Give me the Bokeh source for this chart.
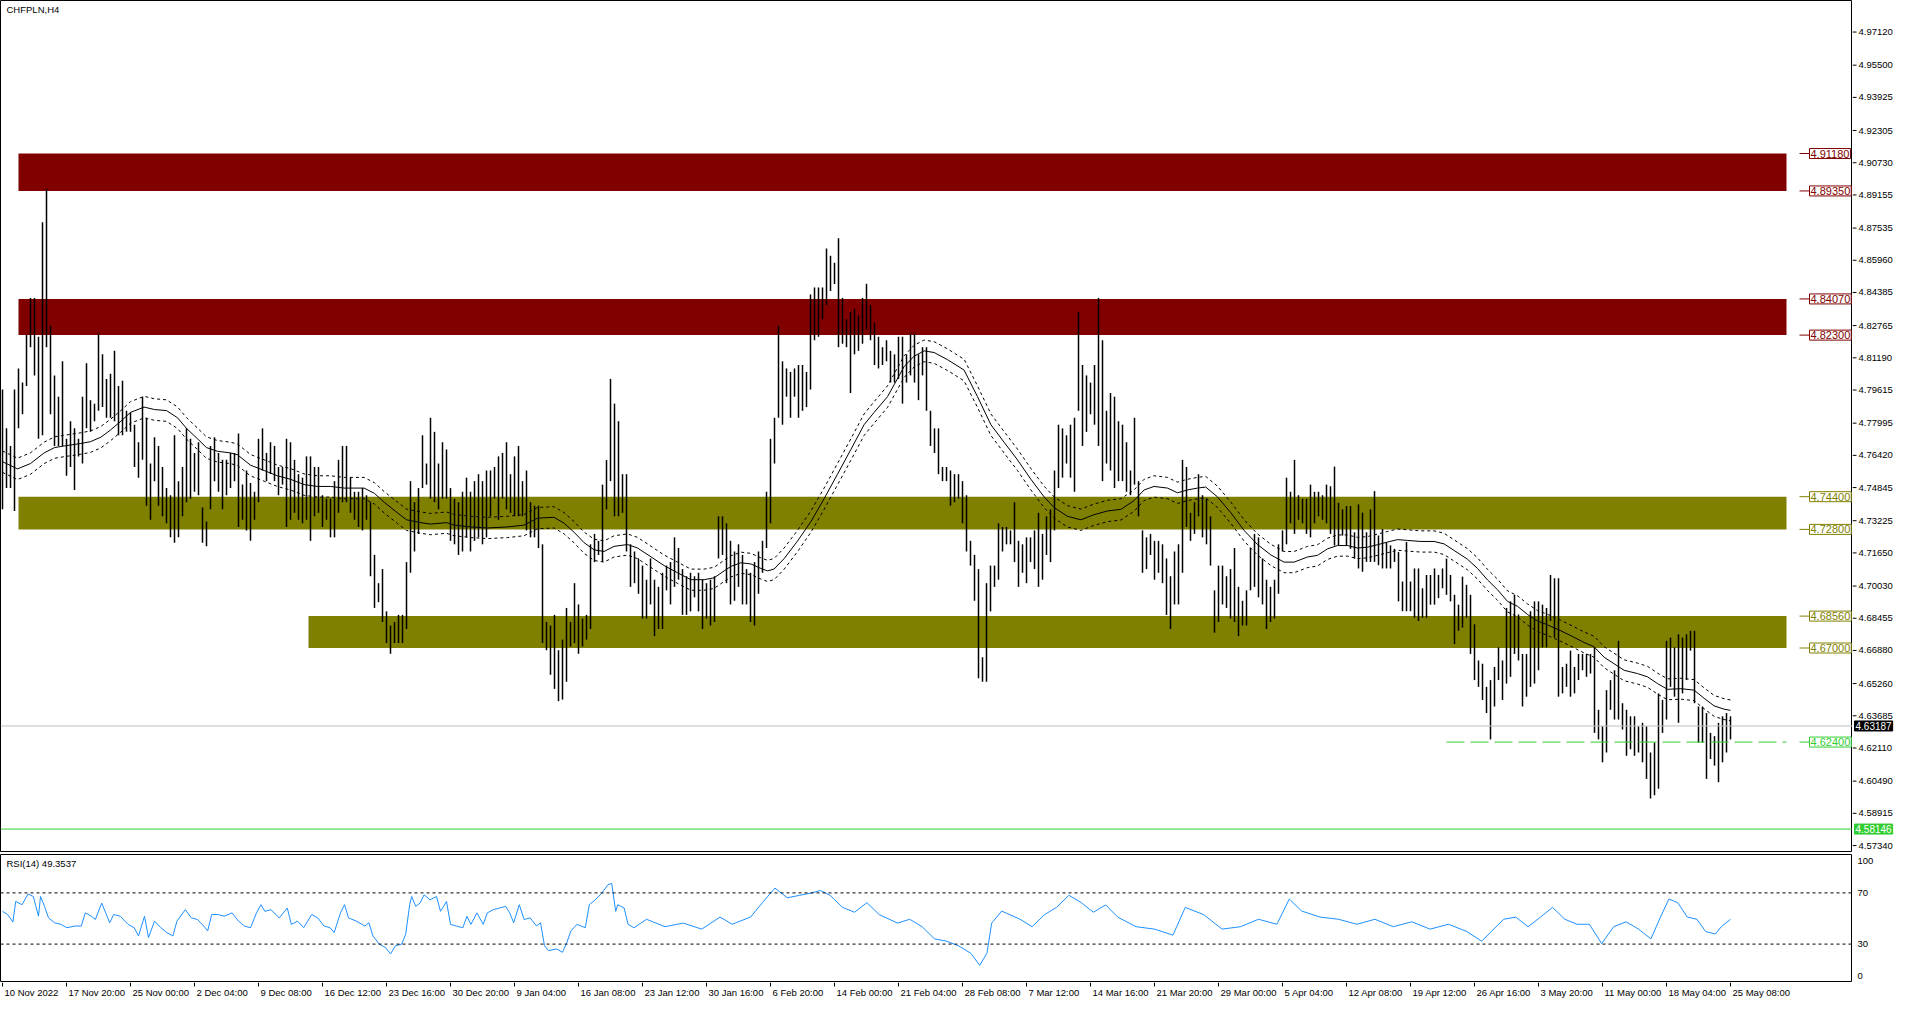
from bokeh.plotting import figure
from bokeh.layouts import column, row
from bokeh.models import Range1d, Span, Label
from bokeh.embed import file_html
from bokeh.resources import INLINE
from bokeh.core.properties import value

# ---------------- data ----------------
chart_title = "CHFPLN,H4"
rsi_title = "RSI(14) 49.3537"

high = [
    4.7964, 4.7774, 4.7688, 4.7964, 4.8067, 4.7998, 4.8231, 4.8412, 4.8412, 4.8222,
    4.8782, 4.8945, 4.8274, 4.8033, 4.7929, 4.8102, 4.7723, 4.7809, 4.7774, 4.7723,
    4.7929, 4.8093, 4.7912, 4.7895, 4.8239, 4.8136, 4.8016, 4.8041, 4.8153, 4.7981,
    4.8007, 4.7860, 4.7852, 4.7792, 4.7706, 4.7929, 4.7826, 4.7602, 4.7731, 4.7688,
    4.7585, 4.7482, 4.7447, 4.7740, 4.7516, 4.7585, 4.7774, 4.7723, 4.7654, 4.7706,
    4.7387, 4.7318, 4.7688, 4.7731, 4.7654, 4.7620, 4.7620, 4.7654, 4.7654, 4.7749,
    4.7499, 4.7568, 4.7507, 4.7464, 4.7723, 4.7774, 4.7654, 4.7706, 4.7688, 4.7585,
    4.7585, 4.7723, 4.7706, 4.7620, 4.7550, 4.7533, 4.7637, 4.7637, 4.7585, 4.7585,
    4.7447, 4.7430, 4.7430, 4.7516, 4.7620, 4.7688, 4.7688, 4.7533, 4.7464, 4.7464,
    4.7482, 4.7447, 4.7413, 4.7155, 4.7017, 4.7086, 4.6879, 4.6810, 4.6827, 4.6862,
    4.6862, 4.7120, 4.7516, 4.7413, 4.7482, 4.7740, 4.7602, 4.7826, 4.7757, 4.7602,
    4.7706, 4.7671, 4.7482, 4.7430, 4.7413, 4.7464, 4.7533, 4.7464, 4.7516, 4.7550,
    4.7516, 4.7568, 4.7568, 4.7585, 4.7637, 4.7654, 4.7706, 4.7550, 4.7637, 4.7688,
    4.7516, 4.7568, 4.7413, 4.7396, 4.7396, 4.7207, 4.6827, 4.6810, 4.6862, 4.6689,
    4.6741, 4.6896, 4.6827, 4.7017, 4.6913, 4.6844, 4.6862, 4.7207, 4.7258, 4.7224,
    4.7499, 4.7619, 4.8016, 4.7895, 4.7809, 4.7550, 4.7550, 4.7207, 4.7172, 4.7138,
    4.7103, 4.7034, 4.7138, 4.7034, 4.6999, 4.7068, 4.7103, 4.7120, 4.7241, 4.7189,
    4.7086, 4.7051, 4.7068, 4.7051, 4.7068, 4.7034, 4.7017, 4.7034, 4.7051, 4.7344,
    4.7344, 4.7310, 4.7224, 4.7172, 4.7207, 4.7155, 4.7086, 4.7068, 4.7120, 4.7172,
    4.7224, 4.7464, 4.7723, 4.7826, 4.8274, 4.8102, 4.8067, 4.8050, 4.8067, 4.8084,
    4.8084, 4.8050, 4.8429, 4.8463, 4.8463, 4.8463, 4.8653, 4.8618, 4.8584, 4.8704,
    4.8412, 4.8308, 4.8343, 4.8360, 4.8326, 4.8412, 4.8481, 4.8377, 4.8291, 4.8222,
    4.8171, 4.8205, 4.8153, 4.8136, 4.8222, 4.8222, 4.8136, 4.8239, 4.8239, 4.8136,
    4.8171, 4.8171, 4.7860, 4.7774, 4.7774, 4.7585, 4.7585, 4.7568, 4.7550, 4.7550,
    4.7516, 4.7447, 4.7224, 4.7155, 4.7086, 4.6655, 4.7017, 4.7103, 4.7103, 4.7310,
    4.7292, 4.7292, 4.7275, 4.7413, 4.7224, 4.7207, 4.7241, 4.7241, 4.7275, 4.7361,
    4.7258, 4.7344, 4.7378, 4.7568, 4.7792, 4.7774, 4.7740, 4.7792, 4.7826, 4.8343,
    4.8084, 4.8033, 4.7998, 4.8084, 4.8412, 4.8205, 4.7860, 4.7947, 4.7929, 4.7809,
    4.7792, 4.7706, 4.7568, 4.7826, 4.7516, 4.7275, 4.7241, 4.7258, 4.7224, 4.7224,
    4.7207, 4.7138, 4.7051, 4.7172, 4.7207, 4.7620, 4.7585, 4.7361, 4.7413, 4.7550,
    4.7447, 4.7430, 4.7344, 4.6982, 4.7103, 4.7103, 4.7051, 4.7086, 4.7189, 4.6999,
    4.6931, 4.6982, 4.7189, 4.7258, 4.7241, 4.7138, 4.7034, 4.6999, 4.7034, 4.7207,
    4.7275, 4.7533, 4.7464, 4.7620, 4.7447, 4.7430, 4.7430, 4.7499, 4.7464, 4.7464,
    4.7447, 4.7499, 4.7491, 4.7587, 4.7410, 4.7378, 4.7394, 4.7394, 4.7266, 4.7402,
    4.7362, 4.7266, 4.7378, 4.7467, 4.7250, 4.7282, 4.7218, 4.7202, 4.7185, 4.7169,
    4.7025, 4.7218, 4.7025, 4.7089, 4.7089, 4.6992, 4.7057, 4.7057, 4.7089, 4.7057,
    4.7089, 4.7137, 4.7057, 4.6960, 4.6912, 4.7049, 4.7009, 4.6960, 4.6816, 4.6639,
    4.6623, 4.6510, 4.6543, 4.6607, 4.6703, 4.6639, 4.6896, 4.6928, 4.6960, 4.6864,
    4.6671, 4.6671, 4.6880, 4.6928, 4.6928, 4.6912, 4.6896, 4.7057, 4.7041, 4.7041,
    4.6607, 4.6623, 4.6687, 4.6607, 4.6671, 4.6671, 4.6671, 4.6671, 4.6703, 4.6398,
    4.6317, 4.6494, 4.6543, 4.6591, 4.6735, 4.6430, 4.6398, 4.6366, 4.6366, 4.6317,
    4.6334, 4.6317, 4.6189, 4.6237, 4.6478, 4.6446, 4.6735, 4.6751, 4.6703, 4.6767,
    4.6751, 4.6767, 4.6784, 4.6784, 4.6414, 4.6414, 4.6382, 4.6285, 4.6269, 4.6334,
    4.6366, 4.6382, 4.6366,
]

low = [
    4.7378, 4.7482, 4.7482, 4.7370, 4.7774, 4.7843, 4.7981, 4.8171, 4.8033, 4.7723,
    4.7740, 4.8171, 4.7843, 4.7688, 4.7688, 4.7688, 4.7542, 4.7585, 4.7473, 4.7637,
    4.7602, 4.7774, 4.7757, 4.7809, 4.7860, 4.7878, 4.7826, 4.7826, 4.7809, 4.7740,
    4.7740, 4.7757, 4.7757, 4.7585, 4.7533, 4.7620, 4.7396, 4.7327, 4.7516, 4.7396,
    4.7344, 4.7310, 4.7241, 4.7215, 4.7241, 4.7344, 4.7413, 4.7430, 4.7464, 4.7447,
    4.7215, 4.7198, 4.7378, 4.7516, 4.7464, 4.7378, 4.7447, 4.7482, 4.7516, 4.7292,
    4.7327, 4.7275, 4.7224, 4.7327, 4.7413, 4.7568, 4.7516, 4.7551, 4.7516, 4.7447,
    4.7499, 4.7292, 4.7327, 4.7361, 4.7327, 4.7310, 4.7327, 4.7224, 4.7344, 4.7361,
    4.7292, 4.7327, 4.7241, 4.7241, 4.7361, 4.7413, 4.7413, 4.7361, 4.7327, 4.7292,
    4.7275, 4.7327, 4.7051, 4.6896, 4.6924, 4.6827, 4.6724, 4.6672, 4.6724, 4.6724,
    4.6724, 4.6793, 4.7068, 4.7172, 4.7258, 4.7482, 4.7499, 4.7430, 4.7413, 4.7378,
    4.7430, 4.7430, 4.7224, 4.7207, 4.7155, 4.7172, 4.7241, 4.7172, 4.7224, 4.7241,
    4.7207, 4.7241, 4.7344, 4.7430, 4.7327, 4.7430, 4.7378, 4.7361, 4.7344, 4.7344,
    4.7344, 4.7275, 4.7241, 4.7241, 4.7189, 4.6724, 4.6689, 4.6569, 4.6500, 4.6440,
    4.6448, 4.6535, 4.6707, 4.6724, 4.6672, 4.6707, 4.6741, 4.6793, 4.7120, 4.7155,
    4.7120, 4.7378, 4.7516, 4.7344, 4.7344, 4.7361, 4.7172, 4.6999, 4.7017, 4.6965,
    4.6844, 4.6844, 4.6913, 4.6758, 4.6793, 4.6793, 4.6982, 4.6913, 4.6999, 4.7034,
    4.6862, 4.6862, 4.6879, 4.6948, 4.6879, 4.6793, 4.6844, 4.6810, 4.6827, 4.7138,
    4.7155, 4.7017, 4.6913, 4.6931, 4.6999, 4.6913, 4.6913, 4.6827, 4.6810, 4.6965,
    4.7068, 4.7189, 4.7310, 4.7602, 4.7826, 4.7792, 4.7929, 4.7826, 4.7929, 4.7826,
    4.7860, 4.7878, 4.7964, 4.8205, 4.8222, 4.8308, 4.8377, 4.8446, 4.8480, 4.8171,
    4.8188, 4.8171, 4.7947, 4.8136, 4.8153, 4.8188, 4.8257, 4.8205, 4.8084, 4.8067,
    4.8084, 4.8102, 4.7998, 4.7998, 4.8016, 4.7895, 4.7998, 4.8033, 4.7998, 4.7912,
    4.8033, 4.7860, 4.7688, 4.7654, 4.7550, 4.7516, 4.7516, 4.7396, 4.7413, 4.7430,
    4.7310, 4.7172, 4.7103, 4.6931, 4.6552, 4.6535, 4.6535, 4.6879, 4.6999, 4.7034,
    4.7172, 4.7207, 4.7207, 4.7120, 4.6999, 4.7068, 4.7017, 4.7120, 4.7086, 4.6999,
    4.7034, 4.7155, 4.7120, 4.7275, 4.7482, 4.7533, 4.7602, 4.7533, 4.7464, 4.7860,
    4.7688, 4.7757, 4.7843, 4.7792, 4.7688, 4.7516, 4.7602, 4.7568, 4.7482, 4.7516,
    4.7516, 4.7464, 4.7447, 4.7499, 4.7344, 4.7068, 4.7086, 4.7155, 4.7034, 4.7068,
    4.7017, 4.6862, 4.6793, 4.6913, 4.6913, 4.7068, 4.7292, 4.7224, 4.7258, 4.7344,
    4.7241, 4.7207, 4.7103, 4.6775, 4.6827, 4.6913, 4.6896, 4.6844, 4.6827, 4.6758,
    4.6810, 4.6810, 4.6982, 4.6999, 4.6948, 4.6913, 4.6793, 4.6827, 4.6844, 4.6965,
    4.7172, 4.7207, 4.7310, 4.7258, 4.7327, 4.7310, 4.7258, 4.7241, 4.7310, 4.7344,
    4.7327, 4.7310, 4.7258, 4.7201, 4.7201, 4.7250, 4.7201, 4.7185, 4.7137, 4.7089,
    4.7073, 4.7121, 4.7121, 4.7121, 4.7105, 4.7089, 4.7089, 4.7089, 4.7121, 4.6928,
    4.6880, 4.6880, 4.6880, 4.6848, 4.6832, 4.6848, 4.6848, 4.6912, 4.6912, 4.6944,
    4.6992, 4.6960, 4.6928, 4.6719, 4.6784, 4.6800, 4.6848, 4.6671, 4.6543, 4.6510,
    4.6446, 4.6382, 4.6253, 4.6414, 4.6543, 4.6446, 4.6526, 4.6559, 4.6671, 4.6639,
    4.6414, 4.6462, 4.6510, 4.6526, 4.6591, 4.6703, 4.6703, 4.6832, 4.6751, 4.6462,
    4.6478, 4.6510, 4.6462, 4.6478, 4.6543, 4.6591, 4.6559, 4.6575, 4.6285, 4.6253,
    4.6141, 4.6189, 4.6398, 4.6350, 4.6350, 4.6301, 4.6173, 4.6205, 4.6173, 4.6189,
    4.6141, 4.6060, 4.5964, 4.5980, 4.6012, 4.6285, 4.6350, 4.6510, 4.6462, 4.6334,
    4.6478, 4.6543, 4.6687, 4.6430, 4.6237, 4.6237, 4.6060, 4.6157, 4.6125, 4.6044,
    4.6141, 4.6189, 4.6253,
]
bar = list(range(len(high)))

# moving average (read at these bar positions) and its envelope deviation (%)
ma_bar = [0, 3.75, 7, 10.4, 13, 15.4, 19.6, 22, 24.6, 27, 29.6, 32, 35.4, 38, 41, 43.75, 46, 48.75,
          51, 53.75, 57, 58.75, 62, 65.4, 68.75, 72, 75.4, 78.75, 82, 85.4, 90.4, 93, 95.4, 98.75,
          101, 104.6, 107, 111, 112.9, 117.1, 121.25, 126.25, 130.4, 133.75, 137.9, 140.4, 142.9,
          145.4, 147.9, 150.4, 152.9, 156.25, 158.75, 162.1, 165.4, 168.75, 172.1, 175.4, 177.9,
          180.4, 182.1, 184.6, 187.1, 189.6, 191.25, 192.9, 195.4, 198.75, 202.1, 205.4, 208.75,
          212.1, 215.4, 217.9, 221.25, 225.4, 227.9, 230.4, 232.9, 236.25, 240.4, 243.75, 247.1,
          250.4, 253.75, 257.1, 260.4, 262.9, 266.25, 269.6, 272.9, 276.25, 279.6, 282.9, 285.4,
          287.9, 291.25, 293.75, 296.25, 298.75, 300.8, 303.75, 307.1, 310.4, 313.75, 317.1, 320.4,
          322.9, 326.25, 328.75, 331.25, 333.75, 336.25, 338.75, 341.25, 343.75, 346.25, 348.75,
          351.25, 354.6, 357.9, 360.4, 362.9, 366.25, 368.75, 371.25, 373.75, 376.25, 378.75,
          381.25, 383.75, 386.25, 389.6, 392.1, 395.4, 397.9, 400.4, 402.9, 405.4, 408.75, 411.25,
          413.75, 416.25, 419.6, 422.9, 425.4, 427.9, 430.4, 432]
ma_val = [4.7611, 4.7576, 4.7602, 4.7654, 4.7680, 4.7688, 4.7700, 4.7709, 4.7731, 4.7766, 4.7809,
          4.7852, 4.7878, 4.7866, 4.7861, 4.7826, 4.7774, 4.7723, 4.7680, 4.7662, 4.7654, 4.7645,
          4.7594, 4.7568, 4.7542, 4.7525, 4.7499, 4.7490, 4.7490, 4.7482, 4.7482, 4.7456, 4.7413,
          4.7361, 4.7327, 4.7313, 4.7306, 4.7313, 4.7301, 4.7292, 4.7287, 4.7292, 4.7301, 4.7335,
          4.7339, 4.7310, 4.7266, 4.7215, 4.7180, 4.7172, 4.7197, 4.7206, 4.7189, 4.7146, 4.7103,
          4.7068, 4.7034, 4.7034, 4.7043, 4.7077, 4.7099, 4.7117, 4.7111, 4.7089, 4.7077, 4.7086,
          4.7137, 4.7223, 4.7318, 4.7430, 4.7550, 4.7671, 4.7792, 4.7852, 4.7929, 4.8076, 4.8127,
          4.8153, 4.8145, 4.8110, 4.8059, 4.7929, 4.7792, 4.7706, 4.7620, 4.7525, 4.7439, 4.7387,
          4.7344, 4.7327, 4.7352, 4.7370, 4.7378, 4.7421, 4.7473, 4.7490, 4.7482, 4.7459, 4.7473,
          4.7482, 4.7487, 4.7439, 4.7361, 4.7275, 4.7206, 4.7155, 4.7120, 4.7120, 4.7145, 4.7153,
          4.7185, 4.7201, 4.7201, 4.7189, 4.7193, 4.7205, 4.7218, 4.7230, 4.7226, 4.7221, 4.7221,
          4.7209, 4.7177, 4.7134, 4.7089, 4.7033, 4.6985, 4.6928, 4.6904, 4.6864, 4.6832, 4.6813,
          4.6784, 4.6760, 4.6727, 4.6706, 4.6655, 4.6623, 4.6591, 4.6575, 4.6559, 4.6526, 4.6498,
          4.6501, 4.6494, 4.6454, 4.6417, 4.6401, 4.6395]
envelope_pct = 0.11

rsi_bar = [0, 1.3, 2.6, 3.3, 4.9, 6.4, 7.7, 9, 9.5, 10.5, 11.5, 13, 14.6, 16.1, 18.1, 19.7, 20.7, 22.2,
           23.2, 24.8, 25.8, 26.8, 27.8, 29.4, 31.4, 32.9, 34, 35.5, 36.5, 38, 39.6, 41.1, 42.6, 43.6,
           45.7, 47.2, 48.75, 50.3, 51.3, 52.3, 53.9, 55.4, 57.4, 59, 60.5, 62, 63.5, 64.6, 65.6, 67.1,
           69.2, 71.2, 72.2, 73.75, 75.3, 77.3, 78.8, 80.4, 81.9, 82.9, 84.5, 85.5, 86.5, 88.5, 90.6,
           91.6, 92.6, 94.2, 95.7, 97, 98.25, 99.8, 100.8, 101.8, 102.3, 103.3, 104.4, 105.4, 106.9,
           108.5, 109.5, 111, 112, 113.5, 115.1, 116.1, 117.1, 118.6, 120.2, 121.2, 122.7, 124.3,
           125.8, 126.8, 127.8, 129.2, 130.4, 131.9, 133.5, 134.5, 135.5, 136.5, 138.5, 140, 141.1,
           142.1, 143.6, 145.7, 146.7, 148.2, 149.8, 151.3, 152.3, 153.3, 153.8, 155.4, 156.4, 157.9,
           161, 165.6, 170.2, 174.8, 179.4, 182.4, 187, 190, 193.1, 196.2, 199.3, 202.3, 204.5,
           206.9, 210, 213, 216.1, 219.2, 223.8, 226.8, 229.9, 233, 236, 239.1, 242.1, 244.3, 246.1,
           247.3, 249.8, 254.4, 257.4, 260.5, 263.5, 266.6, 269.7, 272.7, 275.8, 278.8, 283.4, 288,
           292.6, 295.7, 300.3, 304.9, 309.5, 314, 318.6, 321.7, 324.8, 329.4, 334, 338.6, 343.1,
           347.7, 352.3, 356.9, 361.5, 366.1, 369.8, 372.2, 375.3, 378.3, 381.4, 384.5, 387.5,
           390.6, 393.6, 396.7, 399.8, 402.8, 405.9, 409, 412.1, 414.5, 416.6, 418.8, 421.2, 423.6,
           425.8, 428.2, 429.7, 432]
rsi_val = [55.6, 53.1, 47.2, 63.3, 60.8, 69.2, 67.2, 51.8, 67.2, 59.5, 50.5, 46.7, 45.4, 42.8, 44.1,
           44.1, 54.4, 51.8, 49.2, 62.1, 54.4, 46.7, 53.1, 51.8, 45.4, 42.8, 36.4, 51.8, 35.1, 47.9,
           42.8, 39.0, 36.4, 47.9, 56.9, 50.5, 49.2, 44.1, 40.3, 53.1, 53.1, 51.8, 54.4, 47.9, 44.1,
           42.8, 54.4, 60.8, 55.6, 56.9, 50.5, 58.2, 45.4, 47.9, 42.8, 53.1, 50.5, 44.1, 42.8, 39.0,
           54.4, 60.8, 50.5, 47.9, 44.1, 46.7, 36.4, 30.0, 27.4, 22.3, 28.7, 30.0, 37.7, 60.8, 67.2,
           59.5, 62.1, 68.5, 64.6, 67.2, 55.6, 63.3, 45.4, 44.1, 42.8, 51.8, 45.4, 54.4, 45.4, 54.4,
           56.9, 58.2, 59.5, 54.4, 46.7, 60.8, 49.2, 50.5, 44.1, 46.7, 28.7, 24.9, 26.2, 23.6, 31.3,
           40.3, 45.4, 42.8, 60.8, 64.6, 69.7, 76.2, 77.4, 55.6, 60.8, 58.2, 45.4, 42.8,
           49.4, 43.6, 46.4, 41.7, 51.1, 45.5, 51.1, 62.4, 73.8, 66.2, 68.1, 70.0, 71.9, 68.1, 58.7,
           54.9, 62.4, 53.0, 46.4, 49.4, 43.6, 34.1, 32.3, 28.5, 22.8, 13.4, 22.8, 46.4, 55.8, 49.4,
           43.6, 53.0, 58.7, 68.1, 62.4, 54.9, 60.6, 51.1, 43.6, 41.7, 37.0, 58.7, 53.0, 41.7, 43.6,
           49.4, 45.5, 65.2, 55.8, 51.1, 49.4, 45.5, 49.4, 43.6, 47.4, 41.7, 45.5, 39.8, 32.3, 39.8,
           49.4, 51.1, 43.6, 51.1, 58.7, 49.4, 45.5, 45.5, 30.4, 43.6, 47.4, 41.7, 34.1, 51.1, 65.2,
           62.4, 51.1, 49.4, 39.8, 37.9, 43.6, 49.4]
rsi_levels = [70, 30]
rsi_scale_ticks = [5, 30, 70, 95]
rsi_scale_labels = ["0", "30", "70", "100"]

# horizontal zones (rectangles) and their anchoring bars
zone_top = [4.91180, 4.84070, 4.74400, 4.68560]
zone_bottom = [4.89350, 4.82300, 4.72800, 4.67000]
zone_color = ["#800000", "#800000", "#808000", "#808000"]
zone_start_bar = [4, 4, 4, 76.5]
zone_end_bar = [446, 446, 446, 446]

support_level = 4.62400
support_start_bar = 361
support_end_bar = 446
last_price = 4.63187
green_line_price = 4.58146

price_ticks = [4.97120, 4.95500, 4.93925, 4.92305, 4.90730, 4.89155, 4.87535, 4.85960, 4.84385,
               4.82765, 4.81190, 4.79615, 4.77995, 4.76420, 4.74845, 4.73225, 4.71650, 4.70030,
               4.68455, 4.66880, 4.65260, 4.63685, 4.62110, 4.60490, 4.58915, 4.57340]

date_labels = ["10 Nov 2022", "17 Nov 20:00", "25 Nov 00:00", "2 Dec 04:00", "9 Dec 08:00",
               "16 Dec 12:00", "23 Dec 16:00", "30 Dec 20:00", "9 Jan 04:00", "16 Jan 08:00",
               "23 Jan 12:00", "30 Jan 16:00", "6 Feb 20:00", "14 Feb 00:00", "21 Feb 04:00",
               "28 Feb 08:00", "7 Mar 12:00", "14 Mar 16:00", "21 Mar 20:00", "29 Mar 00:00",
               "5 Apr 04:00", "12 Apr 08:00", "19 Apr 12:00", "26 Apr 16:00", "3 May 20:00",
               "11 May 00:00", "18 May 04:00", "25 May 08:00"]
bars_per_label = 16
date_tick_bars = [k * bars_per_label for k in range(len(date_labels))]

# ---------------- layout / style ----------------
FONT = "Liberation Sans"
FS = "9.5px"
FRAME_W = 1852
AXIS_W = 50
MAIN_H = 852
RSI_H = 128
DATE_H = 20
X0, X1 = -0.5, 462.5
Y0, Y1 = 4.5700, 4.98663
xr = Range1d(X0, X1)
yr_main = Range1d(Y0, Y1)
yr_rsi = Range1d(0, 100)


def make_fig(w, h, x_range, y_range, top=0, outline="black"):
    f = figure(frame_width=w, frame_height=h, x_range=x_range, y_range=y_range,
               output_backend="svg", toolbar_location=None, x_axis_location=None,
               y_axis_location=None, min_border_left=0, min_border_right=0,
               min_border_top=top, min_border_bottom=0, background_fill_color="white",
               border_fill_color="white", outline_line_color=outline, outline_line_width=1)
    f.grid.visible = False
    return f


# ---------- main price panel ----------
p1 = make_fig(FRAME_W, MAIN_H, xr, yr_main)

p1.quad(left=zone_start_bar, right=zone_end_bar, top=zone_top, bottom=zone_bottom,
        fill_color=zone_color, line_color=None)

p1.segment(x0=bar, x1=bar, y0=low, y1=high, line_color="black", line_width=1.5)

ma_up = [v * (1 + envelope_pct / 100) for v in ma_val]
ma_dn = [v * (1 - envelope_pct / 100) for v in ma_val]
p1.line(ma_bar, ma_val, line_color="black", line_width=1)
p1.line(ma_bar, ma_up, line_color="black", line_width=1, line_dash="3 3")
p1.line(ma_bar, ma_dn, line_color="black", line_width=1, line_dash="3 3")

p1.add_layout(Span(location=last_price, dimension="width", line_color="#C0C0C0", line_width=1))
p1.add_layout(Span(location=green_line_price, dimension="width", line_color="#32CD32", line_width=1))
p1.segment(x0=[support_start_bar], x1=[support_end_bar], y0=[support_level], y1=[support_level],
           line_color="#32CD32", line_width=1, line_dash="18 6")

TAG_LINE0, TAG_LINE1 = 449.25, 451.75
tag_levels, tag_colors = [], []
for t, b, c in zip(zone_top, zone_bottom, zone_color):
    tag_levels += [t, b]
    tag_colors += [c, c]
tag_levels.append(support_level)
tag_colors.append("#32CD32")
p1.segment(x0=[TAG_LINE0] * len(tag_levels), x1=[TAG_LINE1] * len(tag_levels),
           y0=tag_levels, y1=tag_levels, line_color=tag_colors, line_width=1)
for lvl, c in zip(tag_levels, tag_colors):
    p1.add_layout(Label(x=TAG_LINE1, y=lvl, text=f"{lvl:.5f}", text_align="left",
                        text_baseline="middle", text_color=c, text_font=FONT,
                        text_font_size="11px", border_line_color=c, border_line_width=1,
                        background_fill_color="white", padding=1))

p1.add_layout(Label(x=X0 + 1.5, y=Y1 - 0.0045, text=chart_title, text_baseline="middle",
                    text_align="left", text_font=FONT, text_font_size=FS, text_color="black"))

# ---------- price scale (right) ----------
pa1 = make_fig(AXIS_W, MAIN_H, Range1d(0, AXIS_W), yr_main, outline=None)
pa1.segment(x0=[0] * len(price_ticks), x1=[4] * len(price_ticks), y0=price_ticks, y1=price_ticks,
            line_color="black", line_width=1)
pa1.text(x=[6] * len(price_ticks), y=price_ticks, text=[f"{t:.5f}" for t in price_ticks],
         text_font=value(FONT), text_font_size=value(FS), text_color="black",
         text_align="left", text_baseline="middle")
for lvl, bg in [(last_price, "black"), (green_line_price, "#32CD32")]:
    pa1.add_layout(Label(x=2, y=lvl, text=f"{lvl:.5f}", text_align="left",
                         text_baseline="middle", text_color="white", text_font=FONT,
                         text_font_size="10px", background_fill_color=bg,
                         border_line_color=bg, padding=1))

# ---------- RSI panel ----------
p2 = make_fig(FRAME_W, RSI_H, xr, yr_rsi, top=2)
p2.line(rsi_bar, rsi_val, line_color="#1E90FF", line_width=1)
for lvl in rsi_levels:
    p2.add_layout(Span(location=lvl, dimension="width", line_color="black", line_width=1,
                       line_dash="3 3"))
p2.add_layout(Label(x=X0 + 1.5, y=93.0, text=rsi_title, text_baseline="middle", text_align="left",
                    text_font=FONT, text_font_size=FS, text_color="black"))

pa2 = make_fig(AXIS_W, RSI_H, Range1d(0, AXIS_W), yr_rsi, top=2, outline=None)
pa2.text(x=[5] * len(rsi_scale_ticks), y=rsi_scale_ticks, text=rsi_scale_labels,
         text_font=value(FONT), text_font_size=value(FS), text_color="black",
         text_align="left", text_baseline="middle")

# ---------- date strip ----------
pd = make_fig(FRAME_W, DATE_H, xr, Range1d(0, DATE_H), outline=None)
pd.segment(x0=date_tick_bars, x1=date_tick_bars, y0=[DATE_H] * len(date_tick_bars),
           y1=[DATE_H - 4] * len(date_tick_bars), line_color="black", line_width=1)
pd.text(x=[b + 0.5 for b in date_tick_bars], y=[DATE_H - 9.5] * len(date_tick_bars),
        text=date_labels, text_font=value(FONT), text_font_size=value(FS), text_color="black",
        text_align="left", text_baseline="middle")

layout = column(row(p1, pa1, spacing=0), row(p2, pa2, spacing=0), pd, spacing=0)
open("out.html", "w").write(file_html(layout, INLINE))
